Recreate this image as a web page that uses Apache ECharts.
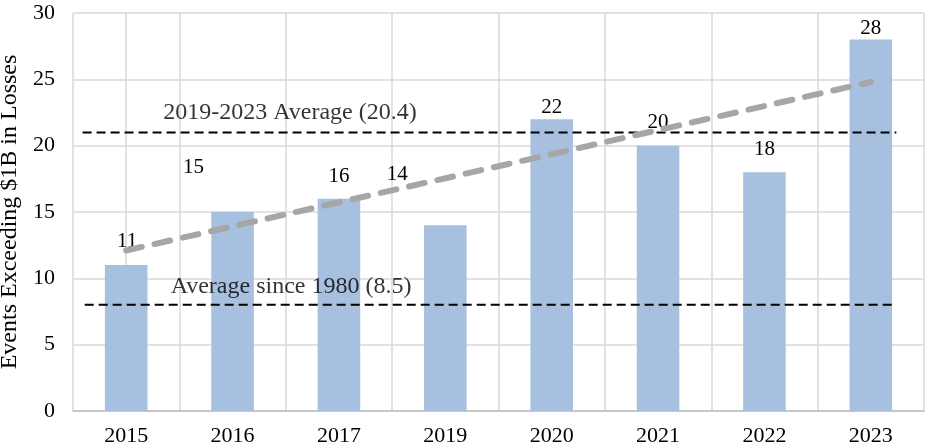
<!DOCTYPE html>
<html>
<head>
<meta charset="utf-8">
<script src="https://cdn.jsdelivr.net/npm/echarts@6/dist/echarts.min.js"></script>
<style>
  html, body { margin: 0; padding: 0; background: #fff; }
  #chart { width: 929px; height: 448px; }
</style>
</head>
<body>
<div id="chart"></div>
<script>
// categories and values (2018 is not in the source chart)
const years = ['2015', '2016', '2017', '2019', '2020', '2021', '2022', '2023'];
const events = [11, 15, 16, 14, 22, 20, 18, 28];

// reference lines, on a hidden value x axis where category i sits at i
const recentAvgLine = [[-0.41, 21], [7.24, 21]];
const longAvgLine = [[-0.39, 8], [7.24, 8]];
const trendLine = [[0, 12.1], [7, 24.8]];

// where the two captions sit
const captions = [
    { value: [1.54, 22.5], text: '2019-2023 Average (20.4)' },
    { value: [1.55, 9.35], text: 'Average since 1980 (8.5)' },
];

// hand nudges for the bar labels, as in the source
const labelShift = [[1, -8], [-39, -29], [0, -7], [-48, -35], [0, 4], [0, -8], [0, -7], [0, 4]];

const font = '"Liberation Serif", "Times New Roman", serif';

const chart = echarts.init(document.getElementById('chart'));

const option = {
    animation: false,
    textStyle: { fontFamily: font },
    grid: { left: 73, right: 5, top: 13, bottom: 37, outerBoundsMode: 'none' },
    xAxis: [
        {
            type: 'category',
            data: years,
            axisLine: { lineStyle: { color: '#bfbfbf', width: 1.5 } },
            axisTick: { show: false },
            axisLabel: { color: '#000', fontSize: 22, fontFamily: font, margin: 14 },
            splitLine: { show: true, lineStyle: { color: '#d9d9d9', width: 1.5 } },
        },
        {
            type: 'value',
            show: false,
            min: -0.5,
            max: 7.5,
        },
    ],
    yAxis: {
        type: 'value',
        min: 0,
        max: 30,
        interval: 5,
        name: 'Events Exceeding $1B in Losses',
        nameLocation: 'middle',
        nameGap: 44,
        nameTextStyle: { color: '#000', fontSize: 24, fontFamily: font },
        axisLine: { show: true, lineStyle: { color: '#d9d9d9', width: 1.5 } },
        axisTick: { show: false },
        axisLabel: { color: '#000', fontSize: 22, fontFamily: font, margin: 18 },
        splitLine: { lineStyle: { color: '#d9d9d9', width: 1.5 } },
    },
    series: [
        {
            type: 'bar',
            barWidth: '40%',
            itemStyle: { color: '#a7c0df' },
            data: events.map((v, i) => ({
                value: v,
                label: { offset: labelShift[i] },
            })),
            label: {
                show: true,
                position: 'top',
                color: '#000',
                fontSize: 21,
                fontFamily: font,
            },
            z: 2,
        },
        {
            type: 'line',
            xAxisIndex: 1,
            data: recentAvgLine,
            symbol: 'none',
            lineStyle: { color: '#000', width: 2, type: [9, 5] },
            z: 4,
        },
        {
            type: 'line',
            xAxisIndex: 1,
            data: longAvgLine,
            symbol: 'none',
            lineStyle: { color: '#000', width: 2, type: [9, 5] },
            z: 4,
        },
        {
            type: 'line',
            xAxisIndex: 1,
            data: trendLine,
            symbol: 'none',
            lineStyle: { color: '#a6a6a6', width: 6, type: [16, 13], cap: 'round' },
            z: 5,
        },
        {
            type: 'scatter',
            xAxisIndex: 1,
            symbolSize: 0,
            data: captions.map(c => ({ value: c.value, name: c.text })),
            label: {
                show: true,
                position: 'inside',
                formatter: p => p.name,
                color: '#000',
                fontSize: 24,
                fontFamily: font,
            },
            z: 6,
        },
    ],
};

chart.setOption(option);
</script>
</body>
</html>
